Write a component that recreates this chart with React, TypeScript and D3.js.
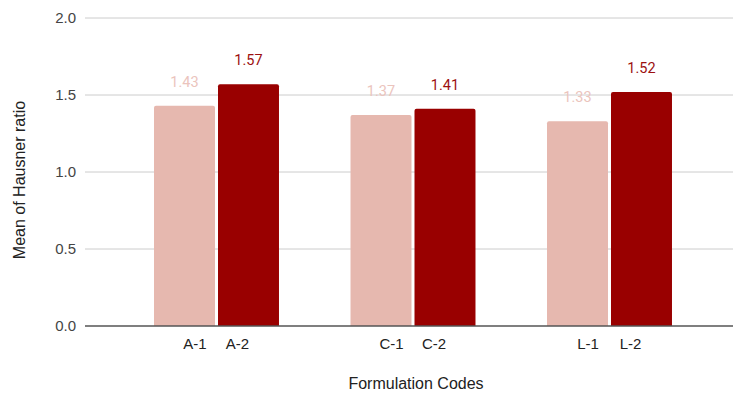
import React from "react";
import * as d3 from "d3";

const groups = ["A", "C", "L"];
const seriesKeys = ["1", "2"];
const series1 = [1.43, 1.37, 1.33];
const series2 = [1.57, 1.41, 1.52];
const yTicks = [0, 0.5, 1.0, 1.5, 2.0];

const W = 734;
const H = 394;
const plotLeft = 85;
const plotRight = 733;
const yTop = 18;
const yBottom = 326;

const colors = ["#e6b8af", "#990000"];
const labelColors = ["#ebc4bd", "#9c1010"];
const sans = "Liberation Sans, Arial, sans-serif";

export default function App() {
  const y = d3.scaleLinear().domain([0, 2]).range([yBottom, yTop]);
  const x0 = d3
    .scaleBand<string>()
    .domain(groups)
    .range([118.25, 707.75])
    .paddingInner(0.364)
    .paddingOuter(0.182);
  const x1 = d3
    .scaleBand<string>()
    .domain(seriesKeys)
    .range([0, x0.bandwidth()])
    .paddingInner(0.047);

  const values = [series1, series2];
  const r = 2;

  // bar with slightly rounded top corners
  const barPath = (x: number, yTopV: number, w: number, h: number) => {
    const p = d3.path();
    p.moveTo(x, yTopV + h);
    p.lineTo(x, yTopV + r);
    p.quadraticCurveTo(x, yTopV, x + r, yTopV);
    p.lineTo(x + w - r, yTopV);
    p.quadraticCurveTo(x + w, yTopV, x + w, yTopV + r);
    p.lineTo(x + w, yTopV + h);
    p.closePath();
    return p.toString();
  };

  return (
    <svg
      width={W}
      height={H}
      style={{ position: "absolute", left: 0, top: 0, background: "#fff" }}
    >
      {yTicks.map((t) => (
        <g key={t}>
          {t !== 0 && (
            <line
              x1={plotLeft}
              x2={plotRight}
              y1={y(t)}
              y2={y(t)}
              stroke="#cccccc"
              strokeWidth={1}
            />
          )}
          <text
            x={76}
            y={y(t)}
            dy="0.35em"
            textAnchor="end"
            fontFamily={sans}
            fontSize={15}
            fill="#444"
          >
            {t.toFixed(1)}
          </text>
        </g>
      ))}

      {groups.map((g, gi) =>
        seriesKeys.map((k, si) => {
          const v = values[si][gi];
          const bx = (x0(g) ?? 0) + (x1(k) ?? 0);
          const bw = x1.bandwidth();
          return (
            <g key={g + k}>
              <path
                d={barPath(bx, y(v), bw, yBottom - y(v))}
                fill={colors[si]}
              />
              <text
                x={bx + bw / 2}
                y={y(v) - 19}
                textAnchor="middle"
                fontFamily="Roboto, sans-serif"
                fontSize={14.5}
                fill={labelColors[si]}
              >
                {v.toFixed(2)}
              </text>
            </g>
          );
        })
      )}

      <line
        x1={plotLeft}
        x2={plotRight}
        y1={yBottom}
        y2={yBottom}
        stroke="#555"
        strokeWidth={1.5}
      />

      {groups.map((g) => {
        const cx = (x0(g) ?? 0) + x0.bandwidth() / 2;
        return seriesKeys.map((k, si) => (
          <text
            key={g + k}
            x={cx + (si === 0 ? -21.5 : 21)}
            y={349}
            textAnchor="middle"
            fontFamily={sans}
            fontSize={15}
            fill="#222"
          >
            {`${g}-${k}`}
          </text>
        ));
      })}

      <text
        x={416}
        y={389}
        textAnchor="middle"
        fontFamily={sans}
        fontSize={16}
        fill="#222"
      >
        Formulation Codes
      </text>

      <text
        transform={`translate(25, 180) rotate(-90)`}
        textAnchor="middle"
        fontFamily={sans}
        fontSize={16}
        fill="#222"
      >
        Mean of Hausner ratio
      </text>
    </svg>
  );
}
